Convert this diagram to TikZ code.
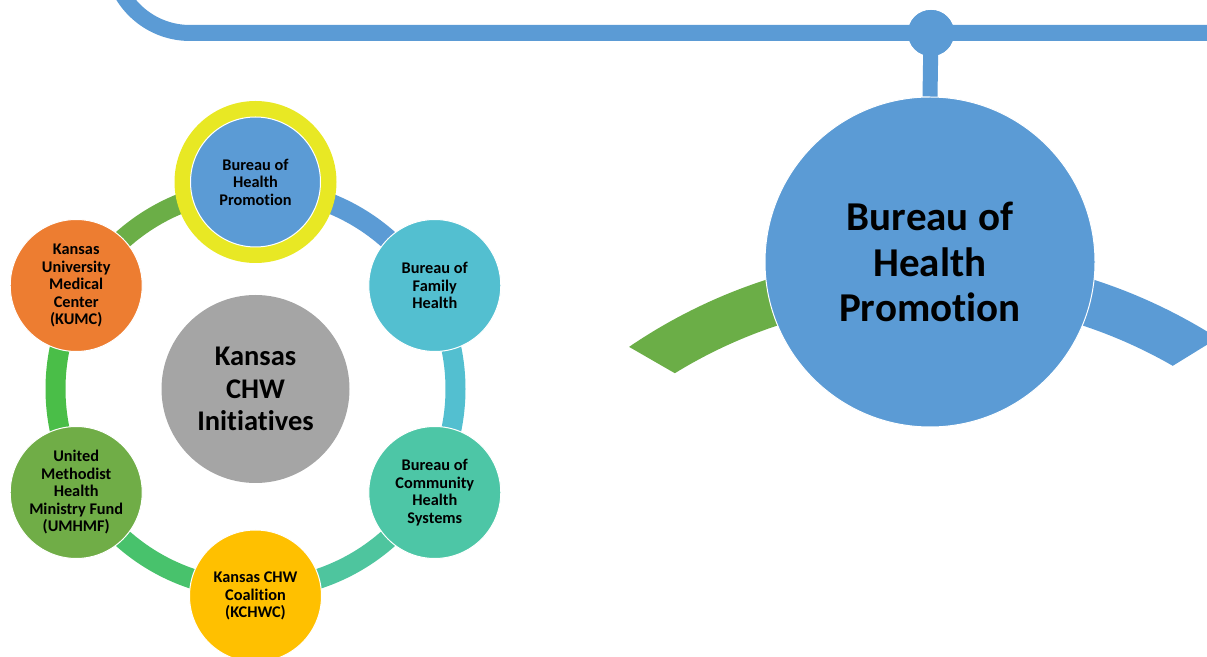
\documentclass[tikz,border=0pt]{standalone}
\usepackage{fontspec}
\setmainfont[Ligatures={NoCommon,NoContextual},Contextuals=NoAlternate]{Carlito}
\usetikzlibrary{calc}
\definecolor{cblue}{HTML}{5B9BD5}
\definecolor{cyell}{HTML}{E8E824}
\definecolor{ccyan}{HTML}{53BFD0}
\definecolor{cteal}{HTML}{4DC6A6}
\definecolor{carcteal}{HTML}{4EC59E}
\definecolor{cgold}{HTML}{FFC000}
\definecolor{cgreen}{HTML}{70AD47}
\definecolor{corange}{HTML}{ED7D31}
\definecolor{cgray}{HTML}{A5A5A5}
\definecolor{carcgreenA}{HTML}{48C26C}
\definecolor{carcgreenB}{HTML}{4ABE48}
\definecolor{carcgreenC}{HTML}{6BAE47}
\tikzset{
  small/.style={circle, minimum size=132pt, inner sep=0pt, draw=white, line width=1pt,
    align=center, font=\fontsize{16.3}{17.5}\selectfont\bfseries, text=black},
  ringarc/.style={line width=20pt}
}
\begin{document}
\begin{tikzpicture}[x=1pt,y=1pt]
\useasboundingbox (0,0) rectangle (1207,656);
\clip (0,0) rectangle (1207,656);
% ---- top connector line
\coordinate (corner) at (190,701.6);
\coordinate (jn) at (931,623);
\coordinate (lineend) at (1230,623);
\draw[cblue, line width=16pt] ($(corner)+(180:78.6)$) arc[start angle=180, end angle=270, radius=78.6] -- (lineend);
% ---- big view
\coordinate (BC) at (930,-132);
\node[circle, fill=cblue, minimum size=46pt, inner sep=0pt] (dot) at (jn) {};
\fill[carcgreenC] ($(BC)+(124.3:534)$) arc[start angle=124.3, end angle=100, radius=534]
  -- ($(BC)+(100:487)$) arc[start angle=100, end angle=121.6, radius=487] -- cycle;
\fill[cblue] ($(BC)+(57.4:534)$) arc[start angle=57.4, end angle=80, radius=534]
  -- ($(BC)+(80:487)$) arc[start angle=80, end angle=60.1, radius=487] -- cycle;
\node[circle, minimum size=330pt, inner sep=0pt, fill=cblue, draw=white, line width=1pt,
  align=center, font=\fontsize{41}{45.5}\selectfont\bfseries] (big) at (930,394)
  {Bureau of\\Health\\Promotion};
\draw[cblue, line width=15pt] (dot.center) -- (big.north);
\node[circle, fill=cblue, minimum size=46pt, inner sep=0pt] at (jn) {};
% ---- cycle
\coordinate (C) at (255.5,267);
\draw[ringarc, cblue] ($(C)+(90:200)$) arc[start angle=90, end angle=30, radius=200];
\draw[ringarc, ccyan] ($(C)+(30:200)$) arc[start angle=30, end angle=-30, radius=200];
\draw[ringarc, carcteal] ($(C)+(-30:200)$) arc[start angle=-30, end angle=-90, radius=200];
\draw[ringarc, carcgreenA] ($(C)+(-90:200)$) arc[start angle=-90, end angle=-150, radius=200];
\draw[ringarc, carcgreenB] ($(C)+(210:200)$) arc[start angle=210, end angle=150, radius=200];
\draw[ringarc, carcgreenC] ($(C)+(150:200)$) arc[start angle=150, end angle=90, radius=200];
\node[circle, fill=cgray, minimum size=188pt, inner sep=0pt, align=center,
  font=\fontsize{28.5}{32.5}\selectfont\bfseries] (center) at (C) {Kansas\\CHW\\Initiatives};
\node[circle, fill=cyell, minimum size=162pt, inner sep=0pt] (ring) at ($(C)+(90:207)$) {};
\node[small, fill=cblue, minimum size=130pt] (bhp) at ($(C)+(90:207)$) {Bureau of\\Health\\Promotion};
\node[small, fill=ccyan] (bfh) at ($(C)+(30:207)$) {Bureau of\\Family\\Health};
\node[small, fill=cteal] (bchs) at ($(C)+(-30:207)$) {Bureau of\\Community\\Health\\Systems};
\node[small, fill=cgold] (kchwc) at ($(C)+(-90:207)$) {Kansas CHW\\Coalition\\(KCHWC)};
\node[small, fill=cgreen] (umhmf) at ($(C)+(210:207)$) {United\\Methodist\\Health\\Ministry Fund\\(UMHMF)};
\node[small, fill=corange] (kumc) at ($(C)+(150:207)$) {Kansas\\University\\Medical\\Center\\(KUMC)};
\end{tikzpicture}
\end{document}
